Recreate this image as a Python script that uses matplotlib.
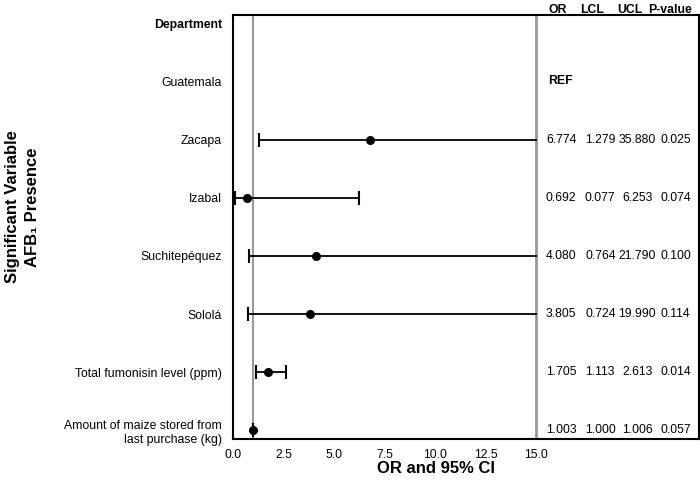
import matplotlib.pyplot as plt

plt.rcParams['font.family'] = ['Liberation Sans', 'DejaVu Sans']

# rows, top to bottom
labels = ['Department', 'Guatemala', 'Zacapa', 'Izabal', 'Suchitepéquez', 'Sololá',
          'Total fumonisin level (ppm)', 'Amount of maize stored from\nlast purchase (kg)']
rows = [2, 3, 4, 5, 6, 7]  # rows that have an estimate
odds = [6.774, 0.692, 4.080, 3.805, 1.705, 1.003]
lcl = [1.279, 0.077, 0.764, 0.724, 1.113, 1.000]
ucl = [35.880, 6.253, 21.790, 19.990, 2.613, 1.006]
pval = [0.025, 0.074, 0.100, 0.114, 0.014, 0.057]
xmax_ci = 15.0

fig = plt.figure(figsize=(7, 4.9), dpi=100)
ax = fig.add_axes([0.333, 0.104, 0.666, 0.865])

ax.axvline(1, color='#999999', lw=1.5, zorder=1)
ax.axvline(xmax_ci, color='#999999', lw=2, zorder=1)

for r, o, lo, hi in zip(rows, odds, lcl, ucl):
    right = min(hi, xmax_ci)
    ax.plot([lo, right], [r, r], color='black', lw=1.3, zorder=2)
    ax.plot([lo], [r], marker='|', color='black', ms=10, mew=1.5, zorder=2)
    if hi <= xmax_ci:
        ax.plot([hi], [r], marker='|', color='black', ms=10, mew=1.5, zorder=2)
    ax.plot([o], [r], 'o', color='black', ms=5.5, zorder=3)

# table columns
fs = 8.8
for r, o, lo, hi, p in zip(rows, odds, lcl, ucl, pval):
    ax.text(16.24, r, f'{o:.3f}', ha='center', va='center', fontsize=fs)
    ax.text(18.17, r, f'{lo:.3f}', ha='center', va='center', fontsize=fs)
    ax.text(20.0, r, f'{hi:.3f}', ha='center', va='center', fontsize=fs)
    ax.text(21.9, r, f'{p:.3f}', ha='center', va='center', fontsize=fs)
ax.text(15.6, 1, 'REF', ha='left', va='center', fontsize=fs, fontweight='bold')

headers = ['OR', 'LCL', 'UCL', 'P-value']
head_x = [16.04, 17.77, 19.65, 21.63]
for h, hx in zip(headers, head_x):
    ax.text(hx, -0.23, h, ha='center', va='center', fontsize=fs,
            fontweight='bold', clip_on=False)

ax.set_xlim(0, 23.07)
ax.set_ylim(7.15, -0.14)
ax.set_xticks([0, 2.5, 5, 7.5, 10, 12.5, 15])
ax.set_xticklabels(['0.0', '2.5', '5.0', '7.5', '10.0', '12.5', '15.0'])
ax.tick_params(axis='x', length=0, labelsize=fs, pad=7)
ax.set_yticks(range(len(labels)))
ax.set_yticklabels(labels)
ax.tick_params(axis='y', length=0, labelsize=fs, pad=8)
ax.get_yticklabels()[0].set_fontweight('bold')
for s in ax.spines.values():
    s.set_linewidth(1.5)

fig.text(436 / 700, 1 - 468 / 490, 'OR and 95% CI', ha='center', va='center',
         fontsize=12, fontweight='bold')
fig.text(0.032, 1 - 207 / 490, 'Significant Variable\nAFB₁ Presence', rotation=90,
         ha='center', va='center', fontsize=12, fontweight='bold',
         multialignment='center', linespacing=1.45)

fig.savefig('out.png', dpi=100)
